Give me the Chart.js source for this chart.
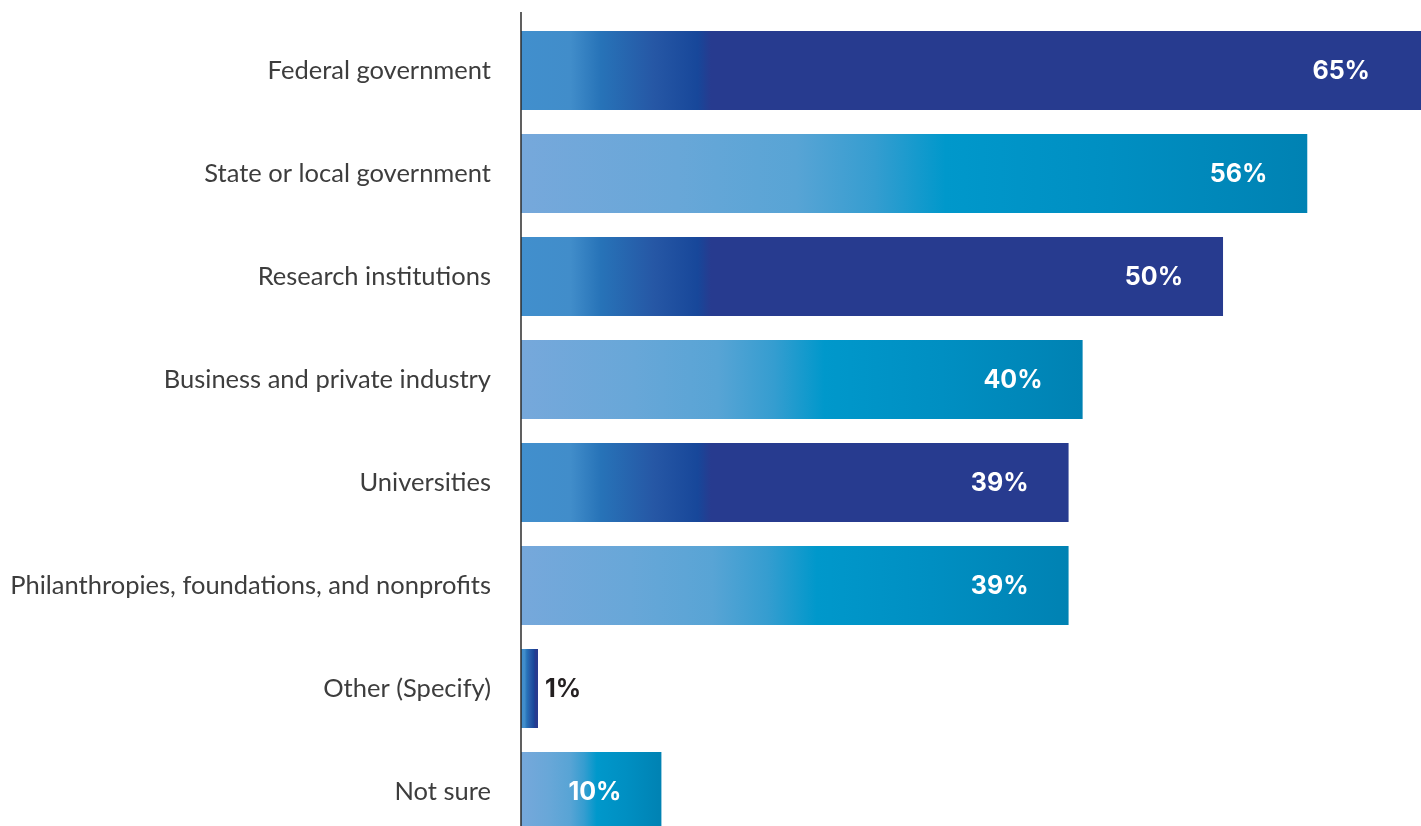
<!DOCTYPE html>
<html>
<head>
<meta charset="utf-8">
<script src="https://cdn.jsdelivr.net/npm/chart.js@4"></script>
<style>
  html, body { margin: 0; padding: 0; background: #ffffff; overflow: hidden; }
  #wrap { width: 1421px; height: 850px; }
</style>
</head>
<body>
<div id="wrap"><canvas id="fundingChart" width="1421" height="850"></canvas></div>
<script>
const categories = [
    'Federal government',
    'State or local government',
    'Research institutions',
    'Business and private industry',
    'Universities',
    'Philanthropies, foundations, and nonprofits',
    'Other (Specify)',
    'Not sure'
];
const percentages = [65, 56, 50, 40, 39, 39, 1, 10];
const valueLabels = ['65%', '56%', '50%', '40%', '39%', '39%', '1%', '10%'];

// gradiente por barra: azul oscuro en pares, turquesa en impares
function barFill(context) {
    const chart = context.chart;
    const area = chart.chartArea;
    if (!area) return '#273B8F';
    const xScale = chart.scales.x;
    const i = context.dataIndex;
    const x0 = xScale.getPixelForValue(0);
    const x1 = xScale.getPixelForValue(percentages[i]);
    const w = Math.max(x1 - x0, 1);
    const ctx = chart.ctx;
    if (i % 2 === 0) {
        const len = Math.min(190, w);
        const g = ctx.createLinearGradient(x0, 0, x0 + len, 0);
        g.addColorStop(0, '#418FCD');
        g.addColorStop(0.26, '#418DCA');
        g.addColorStop(0.42, '#2773B8');
        g.addColorStop(0.7, '#2657A5');
        g.addColorStop(0.93, '#17479A');
        g.addColorStop(1, '#273B8F');
        return g;
    }
    const g = ctx.createLinearGradient(x0, 0, x1, 0);
    g.addColorStop(0, '#76A8DB');
    g.addColorStop(0.2, '#68A7D8');
    g.addColorStop(0.35, '#58A4D5');
    g.addColorStop(0.45, '#359DD0');
    g.addColorStop(0.54, '#0098CB');
    g.addColorStop(0.75, '#008FC2');
    g.addColorStop(1, '#0082B3');
    return g;
}

// linea del eje vertical
const axisLine = {
    id: 'axisLine',
    afterDatasetsDraw(chart) {
        const ctx = chart.ctx;
        const x = chart.chartArea.left;
        ctx.save();
        ctx.strokeStyle = '#2b2b2b';
        ctx.lineWidth = 1.5;
        ctx.beginPath();
        ctx.moveTo(x, 12);
        ctx.lineTo(x, chart.height);
        ctx.stroke();
        ctx.restore();
    }
};

// etiquetas de valor dentro (o fuera) de cada barra
const valueText = {
    id: 'valueText',
    afterDatasetsDraw(chart) {
        const ctx = chart.ctx;
        const meta = chart.getDatasetMeta(0);
        const area = chart.chartArea;
        ctx.save();
        ctx.font = 'bold 25px Inter, Lato, sans-serif';
        ctx.textBaseline = 'middle';
        meta.data.forEach((bar, i) => {
            const right = Math.min(bar.x, area.right);
            const w = right - area.left;
            if (w < 60) {
                ctx.fillStyle = '#231F20';
                ctx.textAlign = 'left';
                ctx.fillText(valueLabels[i], right + 7, bar.y + 1);
            } else {
                ctx.fillStyle = '#ffffff';
                ctx.textAlign = 'right';
                const pad = right >= area.right ? 51 : 40;
                ctx.fillText(valueLabels[i], right - pad, bar.y + 1);
            }
        });
        ctx.restore();
    }
};

new Chart(document.getElementById('fundingChart').getContext('2d'), {
    type: 'bar',
    data: {
        labels: categories,
        datasets: [{
            data: percentages,
            backgroundColor: barFill,
            borderWidth: 0,
            barPercentage: 0.767,
            categoryPercentage: 1,
            minBarLength: 17
        }]
    },
    options: {
        indexAxis: 'y',
        responsive: false,
        animation: false,
        devicePixelRatio: 1,
        layout: {
            padding: { top: 19, bottom: 7, left: 0, right: 0 }
        },
        plugins: {
            legend: { display: false },
            tooltip: { enabled: false }
        },
        scales: {
            x: {
                display: false,
                min: 0,
                max: 64.1
            },
            y: {
                grid: { display: false, drawTicks: false, tickLength: 0 },
                border: { display: false },
                ticks: {
                    padding: 30,
                    color: '#3d3d3d',
                    font: { family: 'Lato, "Open Sans", sans-serif', size: 25.5 }
                },
                afterFit(scale) {
                    scale.width = 521;
                    scale.paddingTop = 0;
                    scale.paddingBottom = 0;
                }
            }
        }
    },
    plugins: [axisLine, valueText]
});
</script>
</body>
</html>
